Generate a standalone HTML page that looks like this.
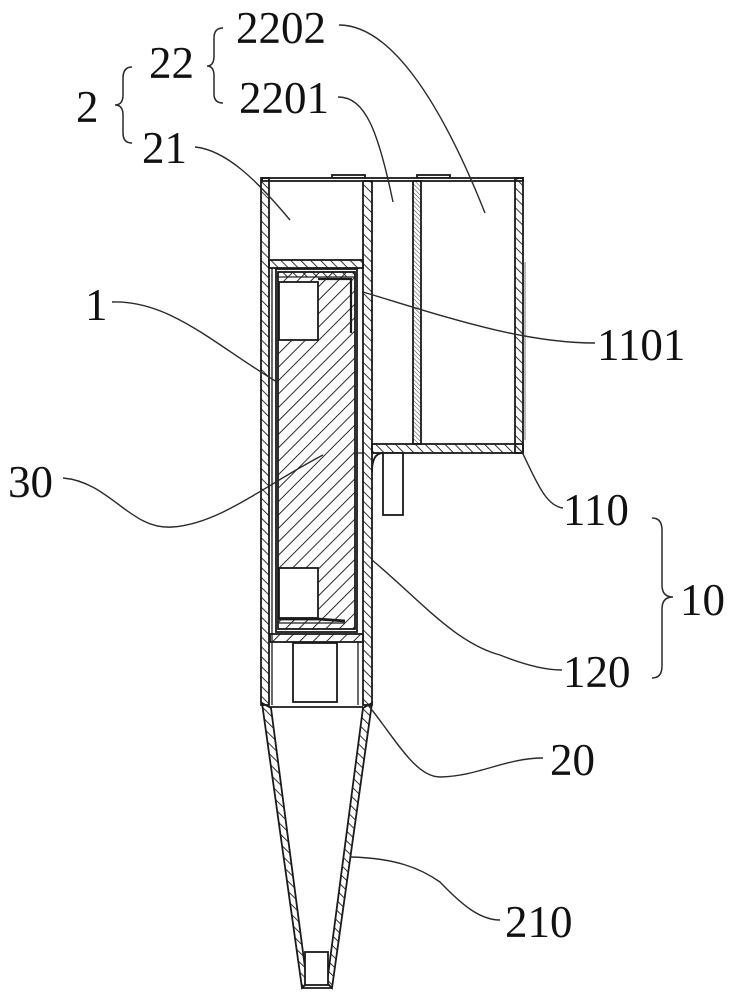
<!DOCTYPE html>
<html>
<head>
<meta charset="utf-8">
<style>
  html,body{margin:0;padding:0;background:#fff;}
  svg{display:block;}
  text{font-family:"Liberation Serif","Times New Roman",serif;font-size:45px;fill:#111;}
</style>
</head>
<body>
<svg width="738" height="1000" viewBox="0 0 738 1000" xmlns="http://www.w3.org/2000/svg">
  <defs>
    <pattern id="wh" width="7" height="7" patternUnits="userSpaceOnUse" patternTransform="rotate(-45)">
      <line x1="0" y1="0" x2="0" y2="7" stroke="#1e1e1e" stroke-width="1.8"/>
    </pattern>
    <pattern id="wd" width="3" height="3" patternUnits="userSpaceOnUse" patternTransform="rotate(-45)">
      <line x1="0" y1="0" x2="0" y2="3" stroke="#444" stroke-width="1"/>
    </pattern>
    <pattern id="p30" width="9.5" height="9.5" patternUnits="userSpaceOnUse" patternTransform="rotate(45)">
      <line x1="0" y1="0" x2="0" y2="9.5" stroke="#1e1e1e" stroke-width="1.9"/>
    </pattern>
  </defs>
  <rect width="738" height="1000" fill="#fff"/>

  <g stroke="#1a1a1a" stroke-width="1.8" fill="none">
    <!-- top plates -->
    <rect x="332" y="175" width="33" height="3" fill="#fff"/>
    <rect x="417" y="175" width="33" height="3" fill="#fff"/>
    <!-- top double line -->
    <rect x="262" y="178" width="261" height="3" fill="#fff"/>

    <!-- housing walls -->
    <rect x="261" y="178" width="8" height="527" fill="url(#wh)"/>
    <rect x="363" y="181" width="9" height="524" fill="url(#wh)"/>
    <rect x="269" y="260" width="94" height="8" fill="url(#wh)"/>

    <!-- 2201 / 2202 block -->
    <rect x="515" y="178" width="8" height="275" fill="url(#wh)"/>
    <rect x="413" y="181" width="8" height="263" fill="url(#wd)"/>
    <rect x="372" y="444" width="151" height="9" fill="url(#wh)"/>
    <path d="M383,453 Q372,453 372,472" />
    <rect x="383" y="453" width="20" height="62" fill="#fff"/>
    <line x1="525" y1="262" x2="525" y2="440" stroke-width="1" stroke="#777"/>

    <!-- box 1 -->
    <rect x="276" y="269" width="81" height="363" fill="#fff"/>
    <rect x="278" y="272" width="77" height="357" fill="url(#p30)"/>
    <rect x="278" y="272" width="77" height="5" fill="url(#wh)" stroke-width="1.2"/>
    <line x1="272" y1="268" x2="272" y2="705" stroke-width="1.3"/>
    <line x1="357" y1="453" x2="363" y2="453" stroke-width="1.2"/>
    <!-- top white rect + bar -->
    <rect x="279" y="282" width="39" height="58" fill="#fff"/>
    <path d="M318,279 L351,279 L351,333" stroke-width="2.2"/>
    <!-- bottom white rect + band -->
    <rect x="279" y="568" width="39" height="50" fill="#fff"/>
    <path d="M279,619 L318,619 L345,621" stroke-width="2.8"/>
    <line x1="279" y1="623" x2="345" y2="623" stroke-width="1.3"/>

    <!-- floor -->
    <rect x="270" y="634" width="93" height="8" fill="url(#p30)"/>
    <!-- lower compartment -->
    <rect x="293" y="643" width="44" height="59" fill="#fff"/>
    <line x1="358" y1="642" x2="358" y2="705" stroke-width="1.3"/>
    <line x1="269" y1="707" x2="363" y2="707"/>

    <!-- cone -->
    <polygon points="262,703 302,988 307,983 271,708" fill="url(#wh)"/>
    <polygon points="372,703 332,988 327,983 363,708" fill="url(#wh)"/>
    <line x1="302" y1="988" x2="332" y2="988"/>
    <rect x="305" y="952" width="23" height="33" fill="#fff"/>
  </g>

  <!-- leader lines -->
  <g stroke="#2a2a2a" stroke-width="1.4" fill="none">
    <path d="M339,25 C390,25 440,100 485,213"/>
    <path d="M338,97 C365,97 378,130 393,202"/>
    <path d="M195,147 C225,150 255,178 290,220"/>
    <path d="M112,302 C170,300 215,345 277,382"/>
    <path d="M63,478 C110,482 130,530 172,527 C220,524 265,485 323,455"/>
    <path d="M363,292 C440,315 520,343 595,343"/>
    <path d="M522,452 C535,478 545,506 563,508"/>
    <path d="M372,560 C420,600 455,643 500,655 C525,665 545,670 562,670"/>
    <path d="M368,705 C395,738 415,777 440,777 C480,776 505,758 543,758"/>
    <path d="M350,857 C395,858 420,868 440,882 C462,905 480,920 500,920"/>
  </g>

  <!-- braces -->
  <g stroke="#2a2a2a" stroke-width="1.5" fill="none">
    <path d="M223,28 Q214,28 214,38 L214,56 Q214,66 207,66 Q214,66 214,76 L214,94 Q214,103 223,103"/>
    <path d="M132,67 Q123,67 123,78 L123,95 Q123,105 115,105 Q123,105 123,115 L123,133 Q123,143 132,143"/>
    <path d="M652,518 Q662,518 662,530 L662,585 Q662,597 673,597 Q662,597 662,609 L662,666 Q662,678 652,678"/>
  </g>

  <!-- labels -->
  <text x="236" y="43">2202</text>
  <text x="149" y="78">22</text>
  <text x="239" y="113">2201</text>
  <text x="76" y="122">2</text>
  <text x="142" y="163">21</text>
  <text x="85" y="320">1</text>
  <text x="597" y="360">1101</text>
  <text x="563" y="525">110</text>
  <text x="680" y="615">10</text>
  <text x="563" y="687">120</text>
  <text x="8" y="497">30</text>
  <text x="550" y="775">20</text>
  <text x="505" y="937">210</text>
</svg>
</body>
</html>
